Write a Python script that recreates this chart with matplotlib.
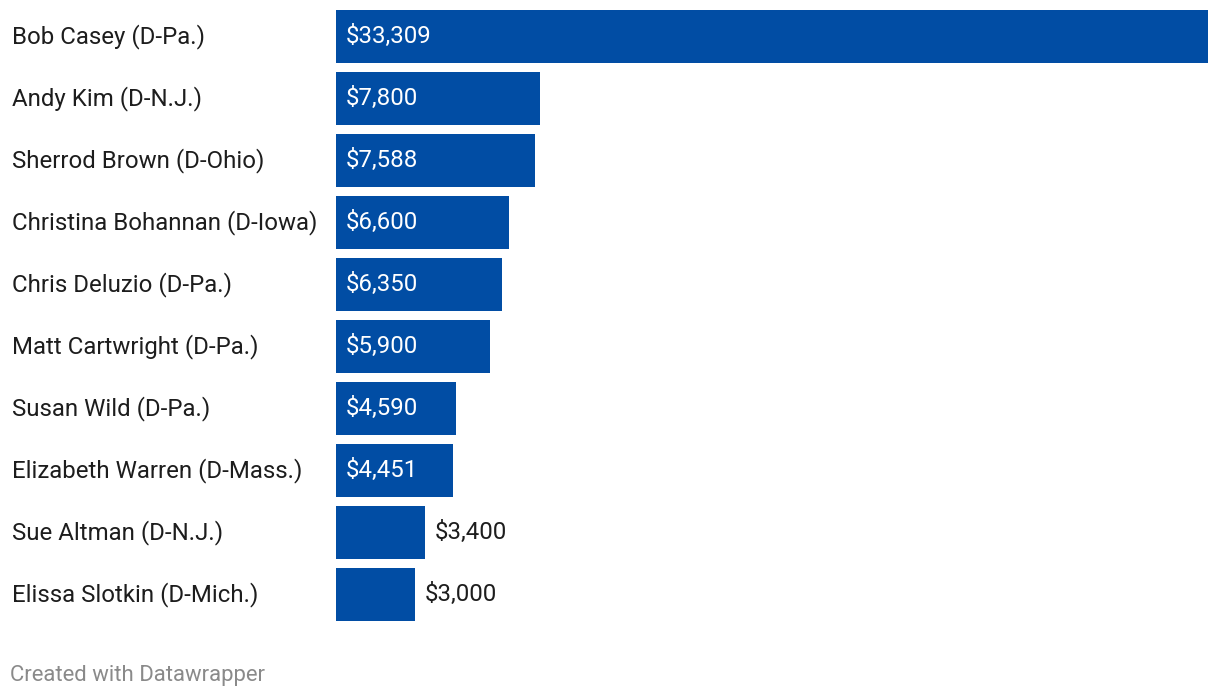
import matplotlib.pyplot as plt

# donations by candidate
candidates = ["Bob Casey (D-Pa.)", "Andy Kim (D-N.J.)", "Sherrod Brown (D-Ohio)",
              "Christina Bohannan (D-Iowa)", "Chris Deluzio (D-Pa.)",
              "Matt Cartwright (D-Pa.)", "Susan Wild (D-Pa.)",
              "Elizabeth Warren (D-Mass.)", "Sue Altman (D-N.J.)",
              "Elissa Slotkin (D-Mich.)"]
amounts = [33309, 7800, 7588, 6600, 6350, 5900, 4590, 4451, 3400, 3000]

plt.rcParams['font.family'] = ['Roboto', 'DejaVu Sans']

W, H = 1220, 698
fig = plt.figure(figsize=(W / 100, H / 100), dpi=100)
# axes covers the bar area: x 336..1208 px, y 10..621 px
ax = fig.add_axes([336 / W, 1 - 621 / H, (1208 - 336) / W, (621 - 10) / H])

bar_h = 53 / 62
ypos = list(range(len(candidates)))
ax.barh(ypos, amounts, height=bar_h, color="#014da4")
ax.set_xlim(0, max(amounts))
ax.set_ylim(len(candidates) - 1 + bar_h / 2, -bar_h / 2)
ax.axis("off")

fs = 17.3
for y, name, val in zip(ypos, candidates, amounts):
    ax.annotate(name, xy=(0, y), xycoords=("figure fraction", "data"),
                xytext=(12, 0), textcoords="offset pixels",
                fontsize=fs, color="#1d1d1d", va="center", ha="left")
    label = "${:,}".format(val)
    # wide bars get the label inside, short ones just after the bar end
    if val > 4000:
        ax.annotate(label, xy=(0, y), xytext=(10, 0), textcoords="offset pixels",
                    fontsize=fs, color="white", va="center", ha="left")
    else:
        ax.annotate(label, xy=(val, y), xytext=(10, 0), textcoords="offset pixels",
                    fontsize=fs, color="#1d1d1d", va="center", ha="left")

fig.text(10 / W, 1 - 676 / H, "Created with Datawrapper", fontsize=15.9,
         color="#8a8a8a", va="center", ha="left")

fig.savefig("out.png", dpi=100)
